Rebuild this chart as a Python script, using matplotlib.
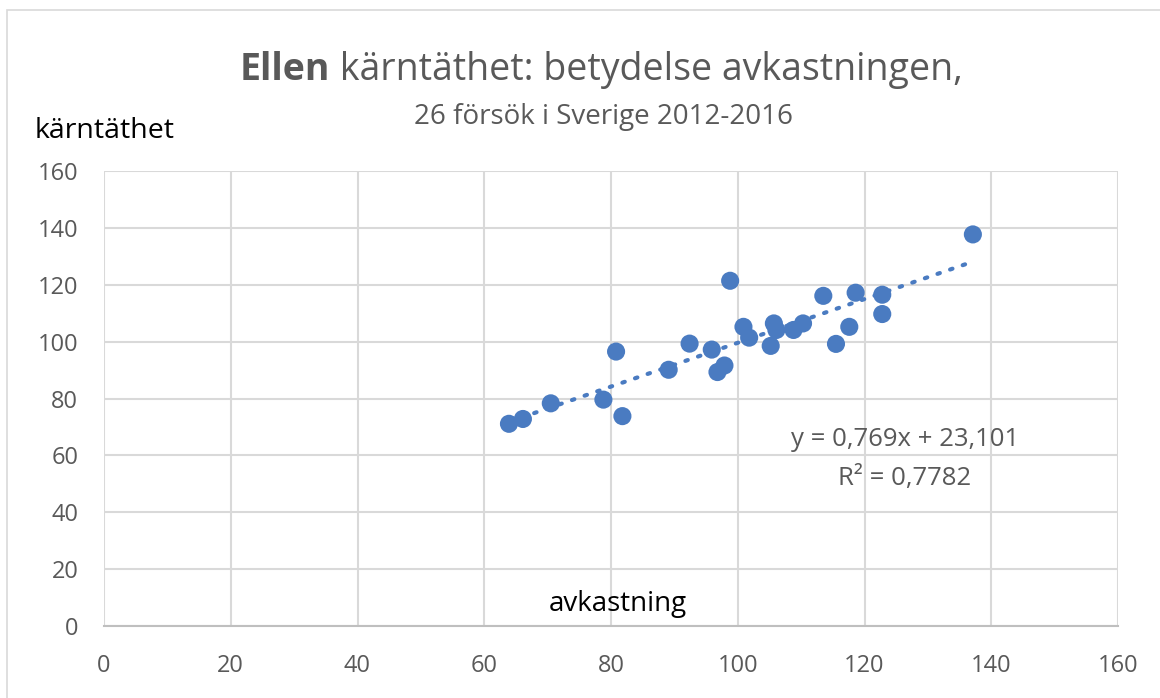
import numpy as np
import matplotlib
matplotlib.use("Agg")
import matplotlib.pyplot as plt
from matplotlib.patches import Rectangle

# Data
avkastning = [63.9, 66.1, 70.5, 78.8, 80.8, 81.8, 89.1, 92.4, 95.9, 96.8, 97.9, 98.8, 100.9,
              101.8, 105.2, 105.7, 106.1, 108.8, 110.3, 113.5, 115.5, 117.6, 118.6, 122.8,
              122.8, 137.1]
karntathet = [71.1, 72.8, 78.3, 79.6, 96.5, 73.8, 90.1, 99.3, 97.2, 89.3, 91.6, 121.4, 105.2,
              101.4, 98.5, 106.4, 104.1, 104.1, 106.4, 116.1, 99.2, 105.2, 117.2, 116.5,
              109.7, 137.7]
ticks = [0, 20, 40, 60, 80, 100, 120, 140, 160]

FONT = ["Open Sans", "DejaVu Sans"]
plt.rcParams["font.family"] = FONT
GRAY = "#595959"
BLUE = "#4a7bc1"
W, H = 1160, 698

fig = plt.figure(figsize=(11.6, 6.98), dpi=100)
fig.patch.set_facecolor("white")
# chart border
fig.add_artist(Rectangle((7/W, -0.01), 1.2, 1 - 10/H + 0.01, transform=fig.transFigure,
                         fill=False, edgecolor="#d9d9d9", linewidth=1.2))

ax = fig.add_axes([104/W, 1 - 626/H, (1118 - 104)/W, (626 - 171)/H])
ax.set_xlim(0, 160)
ax.set_ylim(0, 160)
ax.set_xticks(ticks)
ax.set_yticks(ticks)
ax.grid(True, color="#d9d9d9", linewidth=1.5)
ax.set_axisbelow(True)
for s in ["top", "right", "left"]:
    ax.spines[s].set_visible(False)
ax.spines["bottom"].set_color("#bfbfbf")
ax.spines["bottom"].set_linewidth(1.5)
ax.tick_params(length=0, labelsize=17, labelcolor=GRAY)
ax.tick_params(axis="x", pad=20)
ax.tick_params(axis="y", pad=18.5)

x = np.array(avkastning)
y = np.array(karntathet)
ax.scatter(x, y, s=170, color=BLUE, zorder=3, edgecolors="none")

# linear trendline over data range
k, m = np.polyfit(x, y, 1)
xl = np.array([x.min(), x.max()])
ax.plot(xl, k * xl + m, color=BLUE, linestyle=(0, (0.6, 2.6)), linewidth=3,
        dash_capstyle="round", zorder=2)

fig.text(905/W, 1 - 440/H, "y = 0,769x + 23,101", ha="center", va="center",
         fontsize=18.5, color=GRAY)
fig.text(905/W, 1 - 478/H, "R² = 0,7782", ha="center", va="center",
         fontsize=18.5, color=GRAY)

# title: bold "Ellen" + regular rest, centred together
title_size = 27
t1 = fig.text(0, 1 - 70/H, "Ellen", fontsize=title_size, fontweight="bold", color=GRAY,
              ha="left", va="center")
t2 = fig.text(0, 1 - 70/H, " kärntäthet: betydelse avkastningen,", fontsize=title_size,
              color=GRAY, ha="left", va="center")
fig.canvas.draw()
r = fig.canvas.get_renderer()
w1 = t1.get_window_extent(r).width
w2 = t2.get_window_extent(r).width
left = 601.5 - (w1 + w2) / 2
t1.set_x(left / W)
t2.set_x((left + w1) / W)

fig.text(604/W, 1 - 117/H, "26 försök i Sverige 2012-2016", fontsize=20,
         color=GRAY, ha="center", va="center")
fig.text(35/W, 1 - 131/H, "kärntäthet", fontsize=20.5, color="black",
         ha="left", va="center")
fig.text(618/W, 1 - 604/H, "avkastning", fontsize=20, color="black",
         ha="center", va="center")

fig.savefig("out.png", dpi=100)
